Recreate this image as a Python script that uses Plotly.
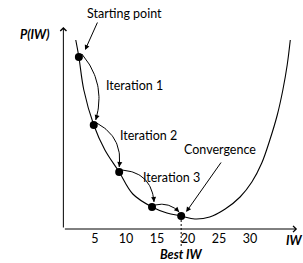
import math
import plotly.graph_objects as go

W, H = 303, 263
X0, X1 = -10.32, 38.55
Y0, Y1 = -17.0, 114.5

# main P(IW) curve
curve_x = [1.9, 2.4, 3.2, 4.8, 6.6, 8.9, 11.1, 14.2, 16.6, 18.9, 21.1, 23.5,
           26.0, 28.4, 30.3, 31.9, 33.2, 34.4, 35.3, 36.0, 36.5]
curve_y = [94.5, 86, 69.5, 52, 39.5, 28.5, 17.5, 11, 8, 6.5, 5, 6,
           10, 16, 23.5, 33, 44.5, 57, 69.5, 82, 94.5]

# iteration points
iter_x = [2.4, 4.8, 8.9, 14.2, 18.9]
iter_y = [86, 52, 28.5, 11, 6.5]

tick_vals = [5, 10, 15, 20, 25, 30]
tick_text = ["5", "10", "15", "20", "25", "30"]

iter_labels = ["Iteration 1", "Iteration 2", "Iteration 3"]
best_iw = 18.9

FONT = "Lato"
FS = 12.5

def to_px(x, y):
    return ((x - X0) / (X1 - X0) * W, (Y1 - y) / (Y1 - Y0) * H)

def to_data(px, py):
    return (X0 + px / W * (X1 - X0), Y1 - py / H * (Y1 - Y0))

fig = go.Figure()

# main curve
fig.add_trace(go.Scatter(x=curve_x, y=curve_y, mode="lines",
                         line=dict(color="black", width=1.1, shape="spline", smoothing=1.0),
                         hoverinfo="skip", showlegend=False))

# iteration arcs (style offsets in pixels)
start_off = [(3, -3), (3, -2), (3, -2), (3, -2)]
end_off = [(2, -5), (0, -5), (2, -5), (-2, -4)]
bulge = [18, 17, 19, 7]
annotations = []
for i in range(len(iter_x) - 1):
    ax_, ay_ = to_px(iter_x[i], iter_y[i])
    bx_, by_ = to_px(iter_x[i + 1], iter_y[i + 1])
    A = (ax_ + start_off[i][0], ay_ + start_off[i][1])
    B = (bx_ + end_off[i][0], by_ + end_off[i][1])
    M = ((A[0] + B[0]) / 2, (A[1] + B[1]) / 2)
    d = (B[0] - A[0], B[1] - A[1])
    L = math.hypot(*d)
    n = (d[1] / L, -d[0] / L)
    C = (M[0] + n[0] * bulge[i], M[1] + n[1] * bulge[i])
    xs, ys = [], []
    N = 30
    for k in range(N + 1):
        t = k / N
        px = (1 - t) ** 2 * A[0] + 2 * (1 - t) * t * C[0] + t ** 2 * B[0]
        py = (1 - t) ** 2 * A[1] + 2 * (1 - t) * t * C[1] + t ** 2 * B[1]
        dxy = to_data(px, py)
        xs.append(dxy[0]); ys.append(dxy[1])
    fig.add_trace(go.Scatter(x=xs, y=ys, mode="lines",
                             line=dict(color="black", width=1),
                             hoverinfo="skip", showlegend=False))
    # arrowhead
    v = (B[0] - C[0], B[1] - C[1])
    vl = math.hypot(*v)
    tail = (B[0] - v[0] / vl * 6, B[1] - v[1] / vl * 6)
    tip_d = to_data(*B)
    tail_d = to_data(*tail)
    annotations.append(dict(x=tip_d[0], y=tip_d[1], ax=tail_d[0], ay=tail_d[1],
                            xref="x", yref="y", axref="x", ayref="y", text="",
                            showarrow=True, arrowhead=2, arrowsize=1, arrowwidth=1,
                            arrowcolor="black", standoff=0, startstandoff=0))

# dashed line at best IW
fig.add_trace(go.Scatter(x=[best_iw, best_iw], y=[iter_y[-1], -8.5], mode="lines",
                         line=dict(color="black", width=1, dash="2px,2px"),
                         hoverinfo="skip", showlegend=False))

# points
fig.add_trace(go.Scatter(x=iter_x, y=iter_y, mode="markers",
                         marker=dict(color="black", size=8, symbol="circle"),
                         hoverinfo="skip", showlegend=False))

def arrow(tip, tail, head=2, size=1.0):
    return dict(x=tip[0], y=tip[1], ax=tail[0], ay=tail[1], xref="x", yref="y",
                axref="x", ayref="y", text="", showarrow=True, arrowhead=head,
                arrowsize=size, arrowwidth=1, arrowcolor="black",
                standoff=0, startstandoff=0)

# axes arrows
annotations.append(arrow((-0.1, 101), (-0.1, 0), head=4, size=1.2))
annotations.append(arrow((37.6, 0), (-0.1, 0), head=4, size=1.2))
# pointer arrows
annotations.append(arrow((3.4, 89.5), (5.5, 104)))
annotations.append(arrow((19.7, 8.5), (25.5, 34)))

def label(x, y, text, bold=False, size=FS):
    t = f"<b><i>{text}</i></b>" if bold else text
    return dict(x=x, y=y, xref="x", yref="y", text=t, showarrow=False,
                font=dict(family=FONT, size=size, color="black"),
                xanchor="center", yanchor="middle")

annotations.append(label(-4.7, 97.5, "P(IW)", bold=True))
annotations.append(label(9.8, 108, "Starting point"))
annotations.append(label(11.3, 72, iter_labels[0]))
annotations.append(label(13.6, 47, iter_labels[1]))
annotations.append(label(17.4, 26, iter_labels[2]))
annotations.append(label(25.2, 40, "Convergence"))
annotations.append(label(37.1, -5.5, "IW", bold=True))
annotations.append(label(best_iw, -12.5, "Best IW", bold=True))

fig.update_layout(
    template="none",
    width=W, height=H,
    autosize=False,
    margin=dict(l=0, r=0, t=0, b=0, pad=0, autoexpand=False),
    paper_bgcolor="white", plot_bgcolor="white",
    showlegend=False,
    annotations=annotations,
    xaxis=dict(range=[X0, X1], showgrid=False, zeroline=False, showline=False,
               tickvals=tick_vals, ticktext=tick_text, ticks="", automargin=False,
               anchor="free", position=(H - to_px(0, 0)[1]) / H,
               tickfont=dict(family=FONT, size=FS, color="black"), fixedrange=True),
    yaxis=dict(range=[Y0, Y1], showgrid=False, zeroline=False, showline=False,
               showticklabels=False, ticks="", automargin=False, fixedrange=True),
)

fig.write_html("out.html", config={"displayModeBar": False},
               post_script="document.body.style.margin='0';document.body.style.padding='0';")
